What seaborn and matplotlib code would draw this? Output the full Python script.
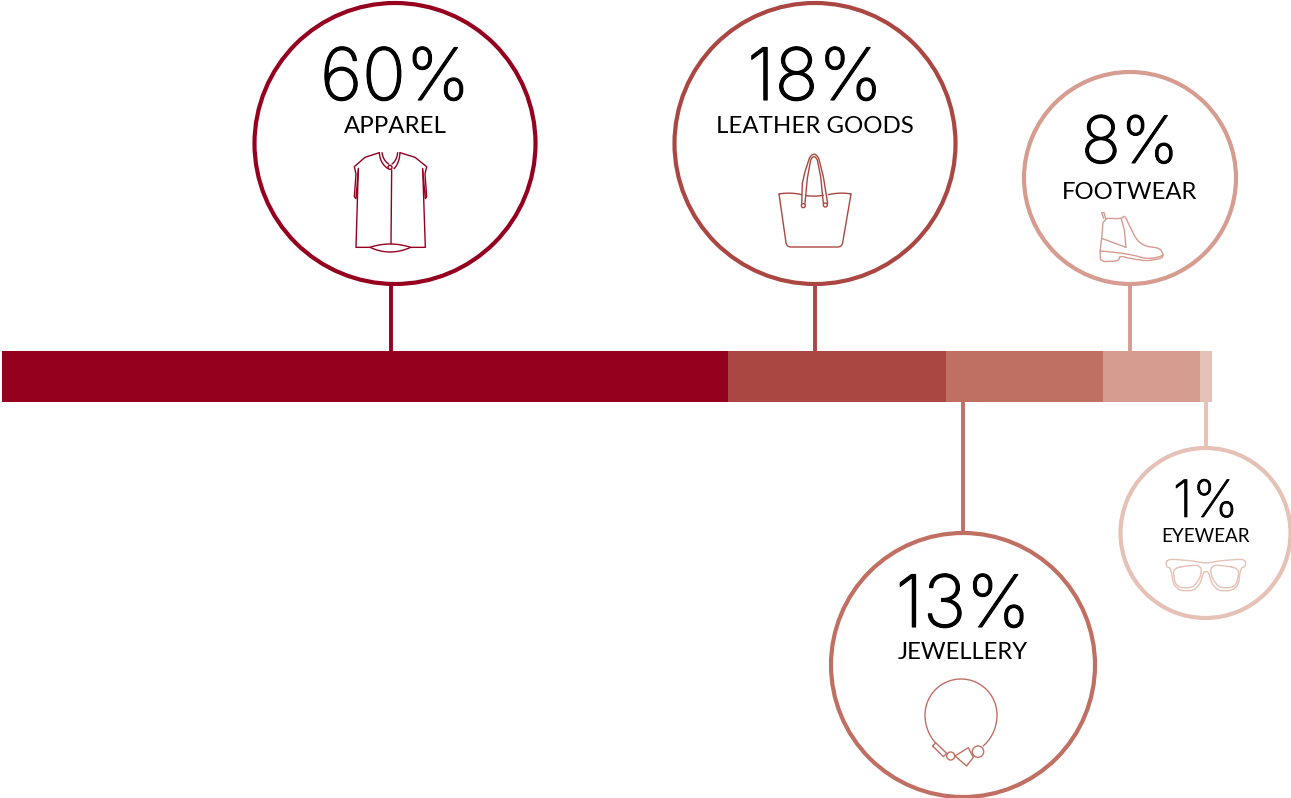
import numpy as np
import pandas as pd
import matplotlib
matplotlib.use("Agg")
import matplotlib.pyplot as plt
import matplotlib.patheffects as pe
from matplotlib.patches import Circle
import seaborn as sns

categories = ["APPAREL", "LEATHER GOODS", "JEWELLERY", "FOOTWEAR", "EYEWEAR"]
shares = [60, 18, 13, 8, 1]
colors = ["#95001F", "#AB4742", "#C06F63", "#D69C90", "#E6C1B6"]

# callout layout in canvas pixels: circle x, y, radius, leader x, number size, label size
callout_x = [395, 815, 963, 1130, 1205.5]
callout_y = [143.5, 143.5, 665, 178, 533]
callout_r = [140.5, 140.5, 132, 106, 85]
leader_x = [390.5, 815, 963, 1130, 1206]
number_pt = [52, 52, 52, 47, 37]
number_stroke = [0.8, 0.8, 0.8, 0.7, 0.5]
label_pt = [17.3, 17.3, 17.2, 17.2, 13.6]
number_y = [100, 100, 627, 163, 517]
label_y = [133, 133, 659, 199, 542]

W, H = 1291, 798
sns.set_theme(style="white")
plt.rcParams["font.family"] = ["Lato", "DejaVu Sans"]

fig = plt.figure(figsize=(W / 100, H / 100), dpi=100, facecolor="white")

# stacked share bar: cumulative totals painted longest first
ax = fig.add_axes([0, 0, 1, 1])
frame = pd.DataFrame({
    "category": categories,
    "cumulative": np.cumsum(shares),
    "row": ["total"] * len(shares),
})
sns.barplot(
    data=frame, x="cumulative", y="row", hue="category",
    hue_order=categories[::-1], palette=dict(zip(categories, colors)),
    dodge=False, orient="h", width=1, saturation=1, legend=False, ax=ax,
    linewidth=0, edgecolor="none",
)
px_per_share = 12.1
bar_left, bar_top, bar_h = 2, 351, 51
ax.set_xlim(-bar_left / px_per_share, (W - bar_left) / px_per_share)
ax.set_ylim((H - bar_top) / bar_h - 0.5, -bar_top / bar_h - 0.5)
ax.set_axis_off()

# overlay in canvas pixels for callouts and icons
ov = fig.add_axes([0, 0, 1, 1])
ov.set_xlim(0, W)
ov.set_ylim(H, 0)
ov.set_axis_off()
ov.patch.set_alpha(0)


def quad(p0, c, p1, n=14):
    t = np.linspace(0, 1, n)[:, None]
    p0, c, p1 = map(np.array, (p0, c, p1))
    return ((1 - t) ** 2 * p0 + 2 * (1 - t) * t * c + t ** 2 * p1).tolist()


def soften(pts, passes=2):
    # corner cutting for closed outlines
    a = np.array(pts, dtype=float)
    for _ in range(passes):
        b = np.roll(a, -1, axis=0)
        a = np.column_stack([0.8 * a + 0.2 * b, 0.2 * a + 0.8 * b]).reshape(-1, 2)
    return a


def stroke(origin, pts, color, lw=1.0, closed=False):
    a = np.array(pts, dtype=float)
    if closed:
        a = np.vstack([a, a[:1]])
    ov.plot(origin[0] + a[:, 0] / 3, origin[1] + a[:, 1] / 3, color=color, lw=lw,
            solid_joinstyle="round", solid_capstyle="round")


def ring(origin, c, r, color, lw=1.0):
    ov.add_patch(Circle((origin[0] + c[0] / 3, origin[1] + c[1] / 3), r / 3,
                        fill=False, ec=color, lw=lw))


def shirt(color):
    o = (320, 30)
    stroke(o, [(178, 368), (135, 382), (103, 410), (108, 432), (103, 500), (108, 506), (115, 420)], color)
    stroke(o, [(240, 368), (285, 382), (320, 410), (315, 432), (320, 500), (316, 506), (308, 420)], color)
    stroke(o, [(115, 415), (108, 652), (150, 652)] + quad((150, 652), (210, 632), (272, 652)) + [(316, 652), (308, 415)], color)
    stroke(o, quad((150, 652), (210, 680), (272, 652)), color)
    stroke(o, [(215, 420), (213, 641)], color)
    stroke(o, quad((178, 368), (180, 400), (204, 416)), color)
    stroke(o, quad((240, 368), (238, 400), (222, 416)), color)
    stroke(o, quad((186, 368), (190, 392), (206, 402)), color)
    stroke(o, quad((233, 368), (230, 392), (216, 402)), color)
    ring(o, (210, 412), 6, color)


def bag(color):
    o = (760, 140)
    stroke(o, quad((57, 162), (90, 156), (125, 164)), color)
    stroke(o, quad((138, 167), (165, 170), (190, 166)), color)
    stroke(o, quad((205, 164), (240, 156), (273, 162)), color)
    stroke(o, [(273, 162), (248, 308)] + quad((248, 308), (245, 321), (232, 321)) + [(95, 321)]
           + quad((95, 321), (80, 321), (78, 308)) + [(57, 162)], color)
    stroke(o, [(125, 190), (127, 130), (135, 95), (148, 55)] + quad((148, 55), (162, 30), (176, 55)) + [(190, 110), (203, 190)], color)
    stroke(o, [(135, 190), (142, 115), (152, 60)] + quad((152, 60), (162, 40), (172, 60)) + [(182, 110), (190, 190)], color)
    ring(o, (130, 197), 6, color)
    ring(o, (196, 195), 6, color)


def boot(color):
    o = (1080, 200)
    stroke(o, soften([(70, 55), (124, 56), (134, 47), (145, 70), (170, 120), (195, 138), (240, 145),
                      (250, 165), (245, 175), (200, 183), (150, 175), (120, 168), (115, 183), (62, 185),
                      (60, 155), (65, 115)], 1), color, closed=True)
    stroke(o, [(71, 55), (65, 38), (72, 38), (77, 55)], color)
    stroke(o, [(124, 56), (133, 90), (138, 142)], color)
    stroke(o, [(65, 115), (138, 142)], color)
    stroke(o, quad((60, 153), (150, 160), (190, 174)) + quad((190, 174), (225, 178), (250, 165)), color)


def glasses(color):
    o = (1150, 540)
    stroke(o, soften([(48, 65), (60, 57), (130, 63), (168, 70), (205, 63), (275, 57), (288, 65), (285, 80),
                      (272, 85), (265, 135), (245, 152), (205, 152), (185, 130), (175, 95), (161, 95),
                      (151, 130), (131, 152), (91, 152), (71, 135), (62, 85), (50, 80)], 1), color, closed=True)
    left = [(68, 84), (140, 74), (155, 85), (150, 115), (128, 143), (90, 143), (75, 130)]
    stroke(o, soften(left), color, closed=True)
    stroke(o, soften([(336 - x, y) for x, y in left]), color, closed=True)


def necklace(color):
    o = (900, 670)
    theta = np.radians(np.linspace(135, 412, 90))
    ry = np.where(np.sin(theta) > 0, 118, 108)
    arc = np.c_[183 + 108 * np.cos(theta), 135 + ry * np.sin(theta)]
    stroke(o, arc, color)
    stroke(o, [(98, 228), (107, 218), (140, 250), (130, 260)], color, closed=True)
    ring(o, (152, 258), 12, color)
    stroke(o, [(165, 258), (205, 233), (220, 262), (200, 288)], color, closed=True)
    ring(o, (234, 245), 17, color)


icons = dict(zip(categories, [shirt, bag, necklace, boot, glasses]))

for i, name in enumerate(categories):
    col = colors[i]
    ov.add_patch(Circle((callout_x[i], callout_y[i]), callout_r[i], fill=False, ec=col, lw=3))
    top = callout_y[i] - callout_r[i]
    bottom = callout_y[i] + callout_r[i]
    # leader runs from the ring to the near edge of the bar
    if bottom < bar_top:
        y0, y1 = bottom, bar_top
    else:
        y0, y1 = top, bar_top + bar_h
    ov.plot([leader_x[i], leader_x[i]], [y0, y1], color=col, lw=2.8, solid_capstyle="butt")
    ov.text(callout_x[i], number_y[i], f"{shares[i]}%", ha="center", va="baseline",
            fontsize=number_pt[i], color="black", family=["Inter", "DejaVu Sans"], fontweight="light",
            path_effects=[pe.withStroke(linewidth=number_stroke[i], foreground="black")])
    ov.text(callout_x[i], label_y[i], name, ha="center", va="baseline",
            fontsize=label_pt[i], color="black")
    icons[name](col)

fig.savefig("out.png", dpi=100, facecolor="white")
